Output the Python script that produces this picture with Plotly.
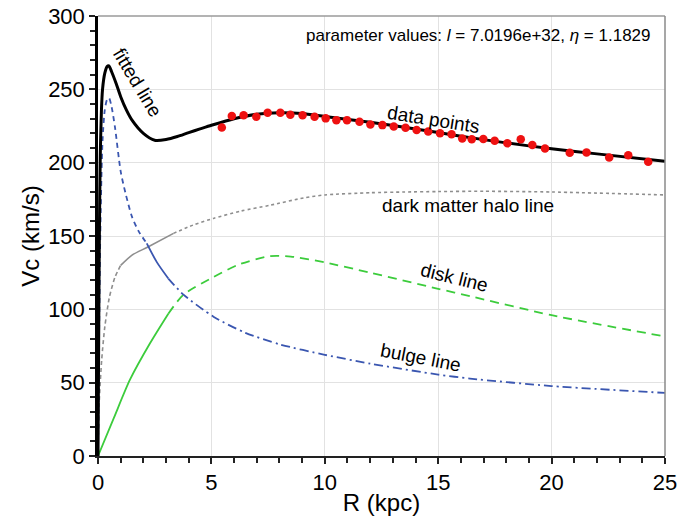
import plotly.graph_objects as go

# ---------- data ----------
data_R = [5.46, 5.9, 6.42, 6.98, 7.48, 8.04, 8.48, 9.02, 9.55, 10.04, 10.51, 10.98,
          11.53, 12.01, 12.54, 13.04, 13.56, 14.05, 14.56, 15.08, 15.59, 16.06, 16.48,
          16.99, 17.49, 18.05, 18.64, 19.15, 19.71, 20.80, 21.54, 22.54, 23.38, 24.26]
data_V = [224, 231.8, 232.4, 231.3, 234, 234, 232.7, 232.4, 231.3, 230.2, 229, 229,
          227.9, 226, 225.6, 224.7, 223.8, 222.2, 221.3, 220, 219.3, 216.5, 215.9,
          216.1, 214.9, 213.2, 215.9, 212, 209.7, 206.8, 207, 203.6, 205, 200.6]

fit_R = [0, 0.03, 0.06, 0.1, 0.15, 0.2, 0.3, 0.4, 0.48, 0.6, 0.8, 1.0, 1.25, 1.5, 2.0,
         2.5, 3.0, 3.5, 4.0, 4.5, 5.0, 6.0, 7.0, 8.0, 9.0, 10.0, 12.0, 14.0, 16.0,
         18.0, 20.0, 22.0, 25.0]
fit_V = [0, 80, 150, 205, 235, 250, 261, 265.5, 266, 262, 254, 245, 236, 229, 220,
         215.3, 215.8, 217.8, 220.5, 223, 225.5, 230, 233, 234, 233.5, 231.5, 227.5,
         223, 218, 213.5, 209.5, 206, 201]

bulge_R = [0, 0.1, 0.2, 0.3, 0.4, 0.49, 0.6, 0.75, 1.0, 1.2, 1.5, 1.8, 2.15, 2.6, 3.1,
           3.77, 5.09, 6.5, 8.04, 10.0, 12.0, 15.0, 16.4, 20.0, 25.0]
bulge_V = [0, 150, 215, 236, 243, 244, 238, 224, 194, 180, 163, 153, 145, 132, 121,
           110, 95, 84, 76, 69, 63, 55.5, 52.8, 47.7, 43]
# (first index, last index inclusive, dash pattern)
bulge_seg = [(0, 12, "5px,4px"), (12, 14, "solid"), (14, 24, "9px,4px,2px,4px")]

halo_R = [0, 0.05, 0.16, 0.3, 0.5, 0.75, 1.0, 1.5, 2.2, 3.33, 4.2, 5.09, 6.3, 7.6,
          9.07, 10.0, 12.0, 13.5, 15.0, 17.0, 20.0, 25.0]
halo_V = [0, 35, 65, 88, 108, 122, 130, 137, 142.5, 151.8, 157.5, 162, 167, 171,
          176, 178, 179.5, 180, 180.3, 180.5, 180, 178]
halo_seg = [(0, 6, "4px,3px"), (6, 9, "solid"), (9, 21, "3px,3px")]

disk_R = [0, 0.7, 1.41, 2.3, 3.1, 3.77, 5.09, 6.2, 7.6, 8.5, 10.0, 12.0, 15.0,
          16.4, 20.0, 25.0]
disk_V = [0, 26, 52, 77, 97, 110, 122, 130.5, 136.3, 136, 132, 125, 114,
          109, 96, 81.5]
disk_seg = [(0, 4, "solid"), (4, 15, "9px,6px")]

x_ticks = [0, 5, 10, 15, 20, 25]
y_ticks = [0, 50, 100, 150, 200, 250, 300]

BLUE = "#3a56b0"
GREEN = "#3ccc3c"
GRAY = "#8e8e8e"

fig = go.Figure()


def add_segments(R, V, segs, color, width):
    for a, b, dash in segs:
        fig.add_trace(go.Scatter(x=R[a:b + 1], y=V[a:b + 1], mode="lines",
                                 line=dict(color=color, width=width, dash=dash,
                                           shape="spline", smoothing=0.7),
                                 showlegend=False, hoverinfo="skip"))


add_segments(halo_R, halo_V, halo_seg, GRAY, 1.6)
add_segments(disk_R, disk_V, disk_seg, GREEN, 1.8)
add_segments(bulge_R, bulge_V, bulge_seg, BLUE, 1.8)

fig.add_trace(go.Scatter(x=fit_R, y=fit_V, mode="lines",
                         line=dict(color="black", width=3, shape="spline", smoothing=0.7),
                         showlegend=False))
fig.add_trace(go.Scatter(x=data_R, y=data_V, mode="markers",
                         marker=dict(color="#ee1111", size=8.5),
                         showlegend=False))

FONT = "Liberation Sans, Arial, sans-serif"

ann = [
    dict(x=1.75, y=255, text="fitted line", textangle=59),
    dict(x=14.8, y=229.5, text="data points", textangle=9),
    dict(x=16.3, y=171, text="dark matter halo line", textangle=0),
    dict(x=15.7, y=121.5, text="disk line", textangle=14),
    dict(x=14.2, y=67, text="bulge line", textangle=11),
]
for a in ann:
    fig.add_annotation(x=a["x"], y=a["y"], text=a["text"], textangle=a["textangle"],
                       showarrow=False, font=dict(family=FONT, size=19, color="black"))

# plot area: 567 px wide, 440 px tall
fig.add_annotation(xref="paper", yref="paper",
                   x=(653 - 98) / 567, y=1 - (35 - 16) / 440,
                   xanchor="right", yanchor="middle",
                   text="parameter values: <i>l</i> = 7.0196e+32, <i>η</i> = 1.1829",
                   showarrow=False, font=dict(family=FONT, size=17, color="black"))

# gray frame on top and right
fig.add_shape(type="line", xref="paper", yref="paper", x0=0, x1=1, y0=1, y1=1,
              line=dict(color="#9a9a9a", width=1.5))
fig.add_shape(type="line", xref="paper", yref="paper", x0=1, x1=1, y0=0, y1=1,
              line=dict(color="#8a8a8a", width=1.5))

fig.update_layout(
    width=680, height=525,
    margin=dict(l=98, r=15, t=16, b=69, autoexpand=False),
    paper_bgcolor="white", plot_bgcolor="white",
    font=dict(family=FONT, color="black"),
    xaxis=dict(range=[0, 25], tickvals=x_ticks, ticks="outside", ticklen=6,
               tickwidth=1.5, tickcolor="#222", showline=True, linecolor="#222",
               linewidth=2, showgrid=True, gridcolor="#e2e2e2", gridwidth=1,
               zeroline=False, tickfont=dict(size=22, family=FONT), automargin=False,
               ticklabeloverflow="allow",
               title=dict(text="R (kpc)", font=dict(size=24, family=FONT), standoff=0),
               minor=dict(dtick=1, ticks="outside", ticklen=5, tickcolor="#222",
                          showgrid=False)),
    yaxis=dict(range=[0, 300], tickvals=y_ticks, ticks="outside", ticklen=6,
               tickwidth=1.5, tickcolor="#222", showline=True, linecolor="black",
               linewidth=2.5, showgrid=True, gridcolor="#e2e2e2", gridwidth=1,
               zeroline=False, tickfont=dict(size=22, family=FONT), automargin=False,
               ticklabeloverflow="allow",
               title=dict(text="Vc (km/s)", font=dict(size=24, family=FONT), standoff=2),
               minor=dict(dtick=10, ticks="outside", ticklen=5, tickcolor="#222",
                          showgrid=False)),
)

fig.write_html("out.html", config={"displayModeBar": False},
               post_script="document.body.style.margin='0';document.body.style.padding='0';")
